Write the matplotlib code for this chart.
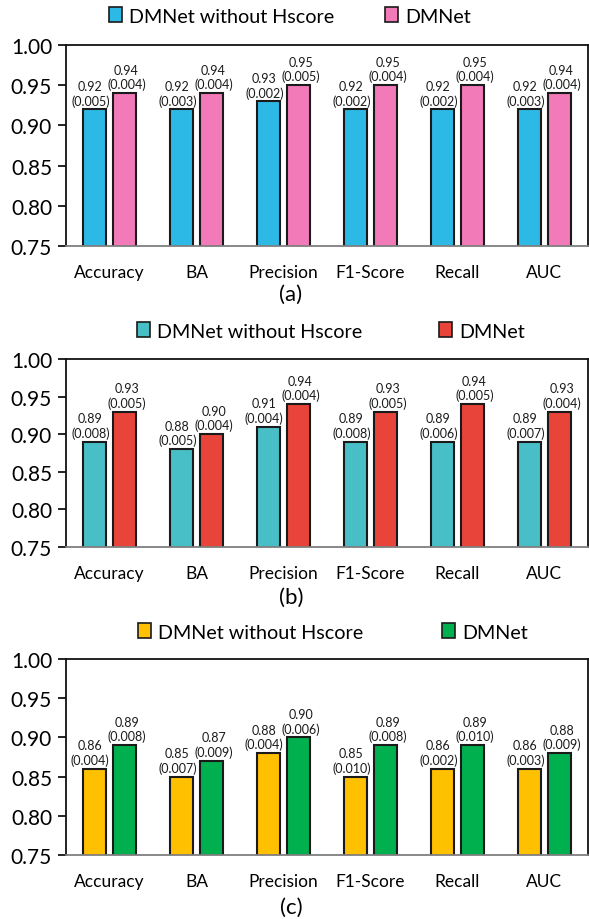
import matplotlib
matplotlib.use("Agg")
import matplotlib.pyplot as plt
from matplotlib.patches import Patch
import numpy as np

plt.rcParams['font.family'] = ['Lato', 'DejaVu Sans']

categories = ["Accuracy", "BA", "Precision", "F1-Score", "Recall", "AUC"]
series_names = ["DMNet without Hscore", "DMNet"]

a_without = [0.92, 0.92, 0.93, 0.92, 0.92, 0.92]
a_without_sd = ["0.005", "0.003", "0.002", "0.002", "0.002", "0.003"]
a_dmnet = [0.94, 0.94, 0.95, 0.95, 0.95, 0.94]
a_dmnet_sd = ["0.004", "0.004", "0.005", "0.004", "0.004", "0.004"]

b_without = [0.89, 0.88, 0.91, 0.89, 0.89, 0.89]
b_without_sd = ["0.008", "0.005", "0.004", "0.008", "0.006", "0.007"]
b_dmnet = [0.93, 0.90, 0.94, 0.93, 0.94, 0.93]
b_dmnet_sd = ["0.005", "0.004", "0.004", "0.005", "0.005", "0.004"]

c_without = [0.86, 0.85, 0.88, 0.85, 0.86, 0.86]
c_without_sd = ["0.004", "0.007", "0.004", "0.010", "0.002", "0.003"]
c_dmnet = [0.89, 0.87, 0.90, 0.89, 0.89, 0.88]
c_dmnet_sd = ["0.008", "0.009", "0.006", "0.008", "0.010", "0.009"]

captions = ["(a)", "(b)", "(c)"]
yticks = [0.75, 0.80, 0.85, 0.90, 0.95, 1.00]

W, H = 589, 920
fig = plt.figure(figsize=(W / 100, H / 100), dpi=100)

def px_axes(left, top, right, bottom):
    return fig.add_axes([left / W, 1 - bottom / H, (right - left) / W, (bottom - top) / H])

panels = [
    dict(vals=(a_without, a_dmnet), sds=(a_without_sd, a_dmnet_sd),
         colors=("#2DB9E6", "#F27AB8"), box=(66, 46, 588, 247),
         leg_y=17, leg_x=290, colsp=2.6, cap_y=295),
    dict(vals=(b_without, b_dmnet), sds=(b_without_sd, b_dmnet_sd),
         colors=("#48BFC7", "#E8443A"), box=(66, 360, 588, 548),
         leg_y=332, leg_x=331, colsp=3.9, cap_y=598),
    dict(vals=(c_without, c_dmnet), sds=(c_without_sd, c_dmnet_sd),
         colors=("#FFC000", "#00B04F"), box=(66, 660, 588, 856),
         leg_y=633, leg_x=333, colsp=4.0, cap_y=908),
]

x = np.arange(len(categories))
bw = 0.275
offs = (-0.172, 0.172)
label_dx = (-3.0, 1.5)

for p, cap in zip(panels, captions):
    ax = px_axes(*p["box"])
    for vals, sds, col, off, dx in zip(p["vals"], p["sds"], p["colors"], offs, label_dx):
        bars = ax.bar(x + off, vals, width=bw, color=col, edgecolor="#1a1a1a", linewidth=1.5, zorder=2)
        for b, v, s in zip(bars, vals, sds):
            ax.annotate(f"{v:.2f}\n({s})", (b.get_x() + b.get_width() / 2, v),
                        xytext=(dx, 2), textcoords="offset points",
                        ha="center", va="bottom", fontsize=9.0, linespacing=1.2,
                        color="#1a1a1a", zorder=3)
    ax.set_xlim(-0.5, 5.5)
    ax.set_ylim(0.75, 1.0)
    ax.set_yticks(yticks)
    ax.set_yticklabels([f"{t:.2f}" for t in yticks])
    ax.set_xticks(x)
    ax.set_xticklabels(categories)
    ax.tick_params(axis="y", length=6, width=1.2, labelsize=15, pad=4, direction="out")
    ax.tick_params(axis="x", length=0, labelsize=12.5, pad=13)
    for sp in ("top", "left", "right"):
        ax.spines[sp].set_color("#111111")
        ax.spines[sp].set_linewidth(1.3)
    ax.spines["bottom"].set_color("#7f7f7f")
    ax.spines["bottom"].set_linewidth(1.3)
    handles = [Patch(facecolor=c, edgecolor="#1a1a1a", linewidth=1.2) for c in p["colors"]]
    ax.legend(handles, series_names, loc="center", ncol=2, frameon=False,
              bbox_to_anchor=(p["leg_x"] / W, 1 - p["leg_y"] / H), bbox_transform=fig.transFigure,
              fontsize=14.2, handlelength=0.65, handleheight=0.75, handletextpad=0.35,
              columnspacing=p["colsp"], borderpad=0, borderaxespad=0)
    fig.text(291 / W, 1 - p["cap_y"] / H, cap, ha="center", va="center", fontsize=16)

fig.savefig("out.png", dpi=100)
